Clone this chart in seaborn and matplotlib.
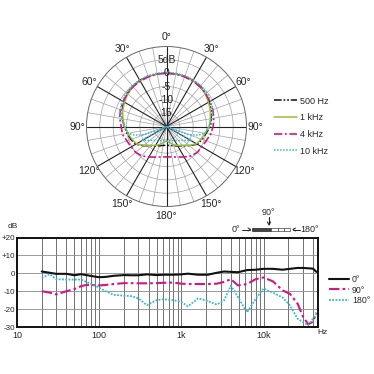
import numpy as np
import matplotlib
matplotlib.use("Agg")
import matplotlib.pyplot as plt
import seaborn as sns
from matplotlib.patches import Rectangle
from matplotlib.lines import Line2D
from matplotlib.ticker import FixedLocator, NullFormatter, LogLocator

# ---------------- data: polar pattern (dB vs angle) ----------------
angles_deg = [0, 10, 20, 30, 40, 50, 60, 70, 80, 90, 100, 110, 120, 130, 140, 150, 160, 170, 180,
              190, 200, 210, 220, 230, 240, 250, 260, 270, 280, 290, 300, 310, 320, 330, 340, 350, 360]
db_500 = [0, 0, 0, 0, -0.3, -0.8, -1.5, -2.2, -3.0, -3.5, -5.0, -5.8, -6.7, -8.8, -10.6, -11.6, -12.3, -12.8, -12.9,
          -12.8, -12.3, -11.6, -10.6, -8.8, -6.7, -5.8, -5.0, -4.2, -3.2, -2.3, -1.5, -0.8, -0.3, 0, 0, 0, 0]
db_1k = [0, 0, 0, -0.2, -0.5, -1.0, -1.8, -2.5, -3.3, -4.0, -5.3, -6.2, -7.0, -9.0, -10.8, -11.8, -12.8, -14.0, -14.5,
         -14.0, -12.8, -11.8, -10.8, -9.0, -7.0, -6.2, -5.3, -4.3, -3.4, -2.5, -1.8, -1.0, -0.5, -0.2, 0, 0, 0]
db_4k = [0, 0, -0.2, -0.3, -0.5, -0.8, -1.2, -1.5, -2.0, -2.5, -3.2, -4.2, -4.7, -4.9, -5.6, -6.8, -7.8, -8.4, -8.6,
         -8.4, -7.8, -6.8, -5.6, -4.9, -4.7, -4.2, -3.2, -3.0, -2.2, -1.6, -1.2, -0.8, -0.5, -0.3, -0.2, 0, 0]
angles_10k = [0, 10, 20, 30, 40, 50, 60, 70, 80, 90, 100, 105, 110, 113, 119, 125, 135, 150, 165, 180,
              195, 210, 225, 235, 241, 247, 250, 255, 260, 270, 280, 290, 300, 310, 320, 330, 340, 350, 360]
db_10k = [0.3, 0.3, 0.3, 0.2, 0, -0.3, -0.8, -1.5, -2.7, -4.0, -5.5, -7.5, -11.0, -20.0, -9.2, -10.9, -12.6, -13.9, -14.5, -14.7,
          -14.5, -13.9, -12.6, -10.9, -9.2, -20.0, -11.0, -7.5, -5.5, -4.2, -2.7, -1.5, -0.8, -0.3, 0, 0.2, 0.3, 0.3, 0.3]
polar_labels = ["500 Hz", "1 kHz", "4 kHz", "10 kHz"]
angle_ticklabels = ["0°", "30°", "60°", "90°", "120°", "150°", "180°", "150°", "120°", "90°", "60°", "30°"]
ring_values = [5, 0, -5, -10, -15]
ring_labels = ["5dB", "0", "-5", "-10", "15"]

# ---------------- data: frequency response ----------------
freqs = [20, 25, 30, 40, 50, 60, 70, 80, 100, 120, 150, 200, 250, 300, 380, 500, 600, 800, 1000, 1200,
         1600, 2100, 2700, 3300, 4000, 4900, 6300, 8000, 10000, 13000, 17000, 21000, 26000, 30000, 35000, 40000, 44000]
resp_0 = [1.0, 0.3, -0.3, -0.3, -1.1, -0.5, -1.0, -1.5, -2.2, -2.0, -1.4, -1.0, -1.1, -1.1, -0.6, -1.0, -0.8, -0.8, -0.6, -0.2,
          -0.8, -0.8, 0.3, 1.0, 0.8, 0.6, 1.8, 2.0, 2.5, 2.5, 2.0, 2.5, 3.0, 3.0, 2.8, 2.6, 0.8]
resp_90 = [-10.0, -10.8, -11.8, -10.0, -8.8, -7.2, -6.5, -6.5, -6.8, -6.5, -6.0, -5.5, -5.5, -5.6, -5.6, -5.5, -5.3, -5.2, -5.8, -6.0,
           -6.0, -6.0, -5.8, -4.8, -3.3, -6.8, -6.0, -3.3, -2.3, -4.5, -9.5, -11.5, -17.0, -24.0, -28.5, -27.0, -22.0]
resp_180 = [-2.5, -0.5, -3.3, -3.5, -3.5, -3.5, -4.8, -6.0, -8.0, -10.0, -12.0, -12.5, -12.8, -14.0, -17.8, -15.0, -14.5, -15.0, -16.0, -18.5,
            -14.0, -15.5, -17.5, -15.2, -6.9, -13.4, -21.8, -14.4, -8.5, -10.8, -13.5, -18.0, -25.4, -27.2, -29.0, -25.4, -22.6]
resp_labels = ["0°", "90°", "180°"]
x_ticks = [10, 100, 1000, 10000]
x_ticklabels = ["10", "100", "1k", "10k"]
y_ticks = [-30, -20, -10, 0, 10, 20]
y_ticklabels = ["-30", "-20", "-10", "0", "+10", "+20"]

# ---------------- styling ----------------
sns.set_style("white")
plt.rcParams['font.family'] = ['Liberation Sans', 'DejaVu Sans']
plt.rcParams['axes.unicode_minus'] = False

W = H = 374.0
fig = plt.figure(figsize=(3.74, 3.74), dpi=100)


def fx(x):
    return x / W


def fy(y):
    return 1 - y / H


BLACK = "#111111"
GREEN = "#9db83c"
MAGENTA = "#d6157f"
CYAN = "#33b7d3"

# ---------------- polar chart ----------------
cx, cy, R = 166.5, 126.5, 80.0
pax = fig.add_axes([fx(cx - R), fy(cy + R), 2 * R / W, 2 * R / H], projection="polar")
pax.set_theta_zero_location("N")
pax.set_theta_direction(-1)
pax.set_ylim(-20, 10)
pax.set_yticks([])
pax.set_xticks(np.deg2rad(np.arange(0, 360, 30)))
pax.set_xticklabels(angle_ticklabels, fontsize=7.5)
pax.grid(False)
pax.tick_params(axis="x", which="major", pad=-4)
pax.spines["polar"].set_color("#666666")
pax.spines["polar"].set_linewidth(0.7)

# grid decoration: rings every 5 dB and spokes every 10 degrees
full_circle = np.linspace(0, 2 * np.pi, 361)
for r in ring_values:
    pax.plot(full_circle, np.full_like(full_circle, r), color="#a0a0a0", lw=0.5, zorder=1)
for a in range(0, 360, 10):
    major = (a % 30 == 0)
    pax.plot([np.deg2rad(a)] * 2, [-20, 10], color="#222222" if major else "#a0a0a0",
             lw=0.8 if major else 0.5, zorder=1 if not major else 1.5)

sns.lineplot(x=np.deg2rad(angles_deg), y=db_500, ax=pax, sort=False, estimator=None, color=BLACK, lw=1.1,
             linestyle=(0, (5, 1.2, 1.2, 1.2, 1.2, 1.2)), label=polar_labels[0], zorder=3)
sns.lineplot(x=np.deg2rad(angles_deg), y=db_1k, ax=pax, sort=False, estimator=None, color=GREEN, lw=1.1,
             label=polar_labels[1], zorder=3)
sns.lineplot(x=np.deg2rad(angles_deg), y=db_4k, ax=pax, sort=False, estimator=None, color=MAGENTA, lw=1.2,
             linestyle=(0, (5, 1.5, 1.2, 1.5)), label=polar_labels[2], zorder=3)
sns.lineplot(x=np.deg2rad(angles_10k), y=db_10k, ax=pax, sort=False, estimator=None, color=CYAN, lw=1.1,
             linestyle=(0, (1, 1)), label=polar_labels[3], zorder=3)
pax.set_xlabel("")
pax.set_ylabel("")
pax.set_ylim(-20, 10)
for r, t in zip(ring_values, ring_labels):
    pax.text(0, r, t, ha="center", va="center", fontsize=7.5, zorder=10, color="#222222")
h, l = pax.get_legend_handles_labels()
h, l = h[-4:], l[-4:]
if pax.get_legend() is not None:
    pax.get_legend().remove()
fig.legend(h, l, loc="upper left", bbox_to_anchor=(fx(270), fy(93)), frameon=False, fontsize=6.5,
           handlelength=2.6, handletextpad=0.3, labelspacing=0.85, borderaxespad=0)

# ---------------- frequency response chart ----------------
bl, br, bt, bb = 17.0, 318.0, 237.5, 327.0
bax = fig.add_axes([fx(bl), fy(bb), (br - bl) / W, (bb - bt) / H])
sns.lineplot(x=freqs, y=resp_0, ax=bax, color=BLACK, lw=1.5, label=resp_labels[0], estimator=None, sort=False)
sns.lineplot(x=freqs, y=resp_90, ax=bax, color=MAGENTA, lw=1.5, linestyle=(0, (5, 1.5, 1.3, 1.5)),
             label=resp_labels[1], estimator=None, sort=False)
sns.lineplot(x=freqs, y=resp_180, ax=bax, color=CYAN, lw=1.3, linestyle=(0, (1, 0.8)),
             label=resp_labels[2], estimator=None, sort=False)
bax.set_xscale("log")
bax.set_xlim(10, 46000)
bax.set_ylim(-30, 20)
bax.set_xlabel("")
bax.set_ylabel("")
bax.xaxis.set_major_locator(FixedLocator(x_ticks))
bax.set_xticklabels(x_ticklabels)
bax.xaxis.set_minor_locator(LogLocator(base=10, subs=np.arange(2, 10)))
bax.xaxis.set_minor_formatter(NullFormatter())
bax.set_yticks(y_ticks)
bax.set_yticklabels(y_ticklabels)
bax.tick_params(axis="x", which="both", length=0, labelsize=6.5, pad=3)
bax.tick_params(axis="y", which="both", length=0, labelsize=5.8, pad=1.5)
bax.grid(True, axis="x", which="both", color="#5a5a5a", lw=0.6)
bax.grid(True, axis="y", which="major", color="#8a8a8a", lw=0.6)
for s in bax.spines.values():
    s.set_color("#111111")
    s.set_linewidth(1.4)
h2, l2 = bax.get_legend_handles_labels()
if bax.get_legend() is not None:
    bax.get_legend().remove()
fig.legend(h2, l2, loc="upper left", bbox_to_anchor=(fx(325), fy(272)), frameon=False, fontsize=6.3,
           handlelength=2.3, handletextpad=0.4, labelspacing=0.12, borderaxespad=0)

fig.text(fx(13), fy(227), "dB", fontsize=6, ha="center", va="center")
fig.text(fx(323), fy(333), "Hz", fontsize=6, ha="center", va="center")

# ---------------- microphone orientation sketch ----------------
fig.text(fx(268), fy(212), "90°", fontsize=6.5, ha="center", va="center")
fig.add_artist(Line2D([fx(269), fx(269)], [fy(217), fy(224)], color="#222222", lw=0.8, transform=fig.transFigure))
fig.add_artist(Line2D([fx(267.5), fx(269), fx(270.5)], [fy(222), fy(225), fy(222)], color="#222222", lw=0.8,
                      transform=fig.transFigure))
fig.text(fx(236), fy(229.5), "0°", fontsize=6.5, ha="center", va="center")
fig.add_artist(Line2D([fx(242), fx(250)], [fy(229.5), fy(229.5)], color="#222222", lw=0.7, transform=fig.transFigure))
fig.add_artist(Line2D([fx(248), fx(250.5), fx(248)], [fy(228), fy(229.5), fy(231)], color="#222222", lw=0.7,
                      transform=fig.transFigure))
fig.add_artist(Rectangle((fx(252), fy(231)), (271 - 252) / W, 3 / H, facecolor="#444444", edgecolor="#222222",
                         lw=0.5, transform=fig.transFigure))
for x0, x1 in [(271, 278), (278, 284), (284, 290)]:
    fig.add_artist(Rectangle((fx(x0), fy(231)), (x1 - x0) / W, 3 / H, facecolor="white", edgecolor="#444444",
                             lw=0.5, transform=fig.transFigure))
fig.add_artist(Line2D([fx(293), fx(300)], [fy(229.5), fy(229.5)], color="#222222", lw=0.7, transform=fig.transFigure))
fig.add_artist(Line2D([fx(295.5), fx(293), fx(295.5)], [fy(228), fy(229.5), fy(231)], color="#222222", lw=0.7,
                      transform=fig.transFigure))
fig.text(fx(310), fy(229.5), "180°", fontsize=6.5, ha="center", va="center")

fig.savefig("out.png", dpi=100, facecolor="white")
